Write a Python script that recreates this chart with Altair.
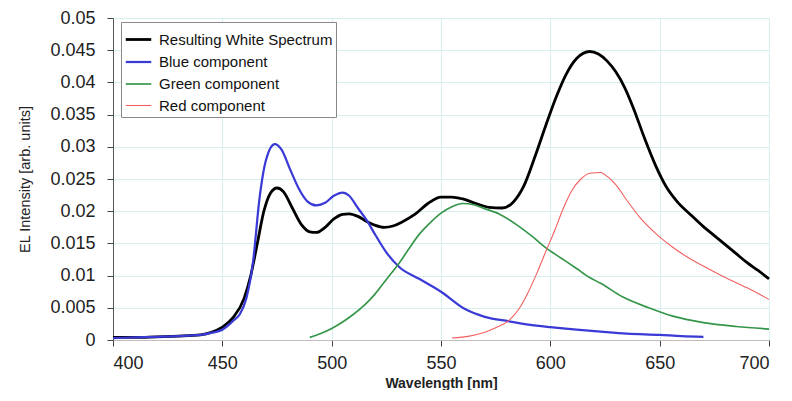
import altair as alt
import pandas as pd

series_names = ["Resulting White Spectrum", "Blue component", "Green component", "Red component"]
series_colors = ["#000000", "#3a3ad6", "#35964a", "#f25f5f"]
series_widths = [2.8, 1.1, 1.1, 1.1]

white_nm = [400, 410, 420, 430, 440, 445, 450, 455, 460, 463, 466, 469, 472, 475, 478, 482, 486, 490, 493,
            497, 501, 505, 508, 512, 516, 520, 524, 528, 532, 538, 544, 550, 555, 560, 566, 572, 578, 583,
            588, 593, 598, 603, 607, 612, 618, 622, 626, 630, 634, 638, 643, 648, 653, 658, 664, 670, 675,
            680, 685, 690, 695, 700]
white_val = [0.0004, 0.0004, 0.0005, 0.0006, 0.0008, 0.0012, 0.0020, 0.0035, 0.0065, 0.0100, 0.0150, 0.0200,
             0.0228, 0.0236, 0.0230, 0.0205, 0.0180, 0.0168, 0.0167, 0.0175, 0.0188, 0.0195, 0.0196, 0.0192,
             0.0184, 0.0178, 0.0175, 0.0177, 0.0183, 0.0195, 0.0212, 0.0222, 0.0222, 0.0219, 0.0212, 0.0206,
             0.0205, 0.0214, 0.0240, 0.0285, 0.0334, 0.0380, 0.0411, 0.0437, 0.0448, 0.0444, 0.0433, 0.0416,
             0.0392, 0.0360, 0.0314, 0.0272, 0.0238, 0.0215, 0.0195, 0.0176, 0.0162, 0.0148, 0.0134, 0.0120,
             0.0108, 0.0095]

blue_nm = [400, 410, 420, 430, 440, 445, 450, 455, 458, 461, 464, 467, 470, 474, 477, 481, 485, 489, 493, 497,
           501, 505, 508, 512, 516, 520, 525, 531, 540, 550, 561, 570, 581, 590, 600, 612, 623, 635, 650, 660,
           670]
blue_val = [0.0003, 0.0004, 0.0005, 0.0006, 0.0008, 0.0011, 0.0016, 0.0030, 0.0040, 0.0065, 0.0120, 0.0220,
            0.0280, 0.0304, 0.0296, 0.0265, 0.0235, 0.0215, 0.0209, 0.0213, 0.0224, 0.0229, 0.0224, 0.0205,
            0.0186, 0.0163, 0.0136, 0.0113, 0.0095, 0.0075, 0.0048, 0.0036, 0.0029, 0.0024, 0.0020, 0.0016,
            0.0013, 0.0010, 0.0008, 0.0006, 0.0005]

green_nm = [490, 495, 500, 505, 510, 515, 520, 525, 531, 535, 540, 545, 550, 555, 560, 565, 570, 577, 585, 592,
            598, 605, 612, 618, 623, 633, 645, 656, 670, 685, 700]
green_val = [0.0004, 0.0010, 0.0018, 0.0028, 0.0040, 0.0054, 0.0072, 0.0094, 0.0120, 0.0140, 0.0164, 0.0182,
             0.0197, 0.0207, 0.0212, 0.0210, 0.0204, 0.0195, 0.0178, 0.0160, 0.0143, 0.0127, 0.0111, 0.0097,
             0.0088, 0.0067, 0.0050, 0.0037, 0.0027, 0.0021, 0.0017]

red_nm = [555, 563, 570, 575, 581, 586, 590, 594, 598, 602, 606, 610, 614, 618, 623, 626, 630, 635, 641, 648,
          656, 663, 671, 680, 690, 700]
red_val = [0.0003, 0.0006, 0.0012, 0.0019, 0.0030, 0.0050, 0.0075, 0.0105, 0.0138, 0.0170, 0.0205, 0.0233,
           0.0250, 0.0259, 0.0260, 0.0254, 0.0241, 0.0217, 0.0190, 0.0166, 0.0144, 0.0128, 0.0113, 0.0097,
           0.0081, 0.0063]

x_ticks = [400, 450, 500, 550, 600, 650, 700]
y_ticks = [0, 0.005, 0.01, 0.015, 0.02, 0.025, 0.03, 0.035, 0.04, 0.045, 0.05]

rows = []
for i, (nms, vals) in enumerate([(white_nm, white_val), (blue_nm, blue_val), (green_nm, green_val), (red_nm, red_val)]):
    for n, v in zip(nms, vals):
        rows.append({"series": series_names[i], "nm": n, "val": v})
df = pd.DataFrame(rows)

font = "Liberation Sans"
leg = alt.Legend(title=None, orient="none", legendX=8, legendY=4)

chart = alt.Chart(df).mark_line(interpolate="monotone").encode(
    x=alt.X("nm:Q", scale=alt.Scale(domain=[400, 700], nice=False),
            axis=alt.Axis(title="Wavelength [nm]", values=x_ticks, format="d")),
    y=alt.Y("val:Q", scale=alt.Scale(domain=[0, 0.05], nice=False),
            axis=alt.Axis(title="EL Intensity [arb. units]", values=y_ticks,
                          labelExpr="datum.value == 0 ? '0' : format(datum.value, '.3~f')")),
    color=alt.Color("series:N", scale=alt.Scale(domain=series_names, range=series_colors), legend=leg),
    strokeWidth=alt.StrokeWidth("series:N", scale=alt.Scale(domain=series_names, range=series_widths), legend=leg),
    detail="series:N",
).properties(
    width=656, height=322,
    autosize=alt.AutoSizeParams(type="none"),
    padding={"left": 105, "top": 10, "right": 15, "bottom": 50},
).configure_view(
    stroke="#9a9a9a", strokeWidth=1
).configure_axis(
    grid=True, gridColor="#d6f0f0", gridWidth=1,
    tickColor="#444444", tickSize=6,
    labelFont=font, labelFontSize=18, labelColor="#222222",
    titleFont=font, titleColor="#222222",
).configure_axisX(
    domainColor="#c4bcbc", labelPadding=8, titlePadding=4, titleFontSize=14, titleFontWeight="bold",
).configure_axisY(
    domainColor="#555555", labelPadding=12, titlePadding=17, titleFontWeight="normal", titleFontSize=14.5,
).configure_legend(
    symbolType="stroke", symbolSize=650, rowPadding=-2, padding=3,
    labelFont=font, labelFontSize=15, labelColor="#111111", labelOffset=6, labelLimit=400,
    fillColor="white", strokeColor="#888888", cornerRadius=0,
)

chart.save("out.html", embed_options={"renderer": "svg", "actions": False})
